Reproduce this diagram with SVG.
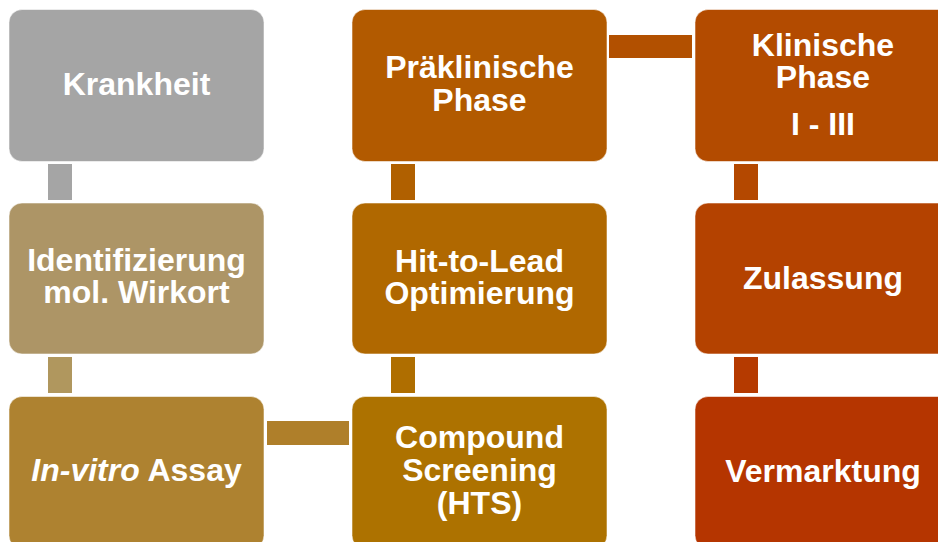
<svg xmlns="http://www.w3.org/2000/svg" width="938" height="542" viewBox="0 0 938 542">
<style>
.box{stroke:#ffffff;stroke-opacity:0.55;stroke-width:1}
.t{font-family:"Liberation Sans",Arial,sans-serif;font-weight:bold;font-size:32px;fill:#ffffff;text-anchor:middle}
</style>
<rect width="938" height="542" fill="#ffffff"/>
<g id="connectors">
<rect x="48" y="164" width="24" height="36" fill="#A5A5A5"/>
<rect x="48" y="357" width="24" height="36" fill="#B0975E"/>
<rect x="267" y="421" width="82" height="24" fill="#AF7F2A"/>
<rect x="391" y="357" width="24" height="36" fill="#AF6E00"/>
<rect x="391" y="164" width="24" height="36" fill="#B06000"/>
<rect x="609" y="35" width="83" height="23" fill="#B25000"/>
<rect x="734" y="164" width="24" height="36" fill="#B44800"/>
<rect x="734" y="357" width="24" height="36" fill="#B53A00"/>
</g>
<g id="krankheit">
<rect class="box" x="9" y="9.5" width="255" height="152" rx="13" fill="#A5A5A5"/>
<text class="t" x="136.5" y="95">Krankheit</text>
</g>
<g id="identifizierung">
<rect class="box" x="9" y="203" width="255" height="151" rx="13" fill="#AD9566"/>
<text class="t" x="136.5" y="271" font-size="31.5">Identifizierung</text>
<text class="t" x="136.5" y="303" font-size="31.5">mol. Wirkort</text>
</g>
<g id="invitro">
<rect class="box" x="9" y="396.5" width="255" height="152" rx="13" fill="#AE8230"/>
<text class="t" x="136.5" y="481"><tspan font-style="italic">In-vitro</tspan> Assay</text>
</g>
<g id="compound">
<rect class="box" x="352" y="396.5" width="255" height="152" rx="13" fill="#AD7200"/>
<text class="t" x="479.5" y="448">Compound</text>
<text class="t" x="479.5" y="481">Screening</text>
<text class="t" x="479.5" y="514">(HTS)</text>
</g>
<g id="hittolead">
<rect class="box" x="352" y="203" width="255" height="151" rx="13" fill="#B06800"/>
<text class="t" x="479.5" y="272">Hit-to-Lead</text>
<text class="t" x="479.5" y="304">Optimierung</text>
</g>
<g id="praeklinisch">
<rect class="box" x="352" y="9.5" width="255" height="152" rx="13" fill="#B25A00"/>
<text class="t" x="479.5" y="78">Präklinische</text>
<text class="t" x="479.5" y="111">Phase</text>
</g>
<g id="klinisch">
<rect class="box" x="695" y="9.5" width="256" height="152" rx="13" fill="#B34B00"/>
<text class="t" x="823" y="56">Klinische</text>
<text class="t" x="823" y="88">Phase</text>
<text class="t" x="823" y="135">I - III</text>
</g>
<g id="zulassung">
<rect class="box" x="695" y="203" width="256" height="151" rx="13" fill="#B44200"/>
<text class="t" x="823" y="289">Zulassung</text>
</g>
<g id="vermarktung">
<rect class="box" x="695" y="396.5" width="256" height="152" rx="13" fill="#B53500"/>
<text class="t" x="823" y="482">Vermarktung</text>
</g>
</svg>
